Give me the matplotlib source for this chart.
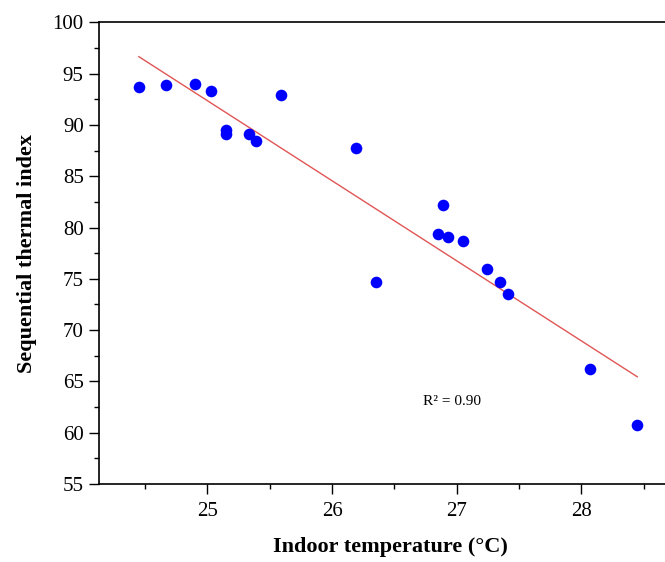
import numpy as np
import matplotlib
matplotlib.use("Agg")
import matplotlib.pyplot as plt
from matplotlib.ticker import MultipleLocator

plt.rcParams['font.family'] = ['Liberation Serif', 'DejaVu Serif']

# indoor temperature (°C) vs sequential thermal index
temp = [24.45, 24.67, 24.90, 25.03, 25.59, 25.15, 25.15, 25.33, 25.39, 26.19,
        26.35, 26.89, 26.85, 26.93, 27.05, 27.245, 27.35, 27.41, 28.07, 28.45]
sti = [93.72, 93.86, 93.96, 93.30, 92.91, 89.5, 89.1, 89.14, 88.46, 87.72,
       74.72, 82.19, 79.40, 79.05, 78.68, 75.98, 74.72, 73.49, 66.2, 60.75]

# linear fit as drawn in the figure
slope = -7.8
intercept = 287.36
r2_text = "R² = 0.90"

fig = plt.figure(figsize=(6.65, 5.62), dpi=100)
ax = fig.add_axes([99 / 665, 1 - 484 / 562, 582 / 665, (484 - 22.3) / 562])

ax.scatter(temp, sti, s=70, color='#0000ff', zorder=3, linewidths=0)

xfit = np.array([min(temp), max(temp)])
ax.plot(xfit, intercept + slope * xfit, color='#e05555', lw=1.0, zorder=2)

ax.text(26.73, 63.0, r2_text, fontsize=11, va='center', ha='left')

ax.set_xlim(24.13, 24.13 + 582 / 124.6)
ax.set_ylim(55, 100)
ax.xaxis.set_major_locator(MultipleLocator(1))
ax.xaxis.set_minor_locator(MultipleLocator(0.5))
ax.yaxis.set_major_locator(MultipleLocator(5))
ax.yaxis.set_minor_locator(MultipleLocator(2.5))

ax.tick_params(which='major', direction='out', length=7, width=1.0,
               labelsize=15, pad=4)
ax.tick_params(which='minor', direction='out', length=3.5, width=1.0)
ax.tick_params(top=False, right=False, which='both')
ax.tick_params(axis='x', pad=6)

for sp in ax.spines.values():
    sp.set_linewidth(1.2)
ax.spines['right'].set_visible(False)

ax.set_xlabel("Indoor temperature (°C)", fontsize=16, fontweight='bold')
ax.set_ylabel("Sequential thermal index", fontsize=16, fontweight='bold', labelpad=11)
ax.xaxis.set_label_coords((390 - 99) / 582, -(537 - 484) / (484 - 22.3))

fig.savefig("out.png", dpi=100)
